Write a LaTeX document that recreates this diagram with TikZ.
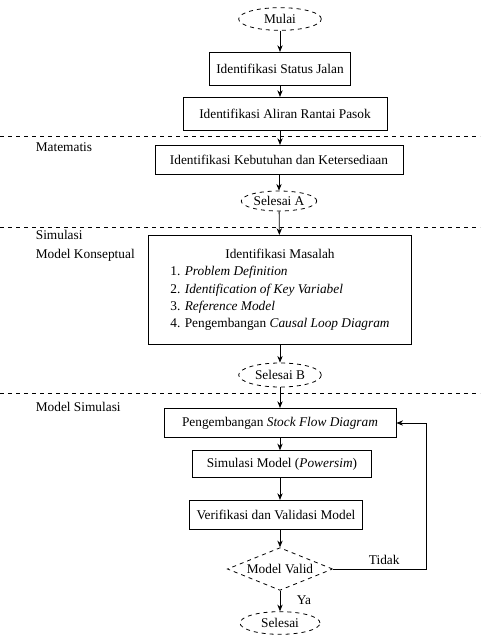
\documentclass[tikz,border=0pt]{standalone}
\usepackage{fontspec}
\setmainfont{Liberation Serif}
\usetikzlibrary{shapes.geometric,arrows.meta}
\begin{document}
\begin{tikzpicture}[x=0.75pt,y=-0.75pt,font=\fontsize{10}{12}\selectfont,
    kotak/.style={draw,rectangle,inner sep=2pt},
    terminal/.style={draw,dashed,ellipse,inner sep=1pt},
    keputusan/.style={draw,dashed,diamond,aspect=2.4,inner sep=1pt},
    panah/.style={-{Stealth[length=5pt,width=4pt]}},
    every path/.style={line width=0.6pt}]
  \useasboundingbox (0,0) rectangle (480,636);
  % alur utama
  \node[terminal,minimum width=62pt,minimum height=17pt] (Mulai) at (280,19) {Mulai};
  \node[kotak,minimum width=106pt,minimum height=25pt] (StatusJalan) at (280,69) {Identifikasi Status Jalan};
  \node[kotak,minimum width=153pt,minimum height=25pt] (RantaiPasok) at (285,114) {Identifikasi Aliran Rantai Pasok};
  \node[kotak,minimum width=186pt,minimum height=22pt] (Kebutuhan) at (279,160) {Identifikasi Kebutuhan dan Ketersediaan};
  \node[terminal,minimum width=56pt,minimum height=15pt] (SelesaiA) at (279,201) {Selesai A};
  \node[kotak,minimum width=197pt,minimum height=82pt] (Masalah) at (280,290)
    {\begin{tabular}{@{}l@{}}
       \multicolumn{1}{c}{Identifikasi Masalah}\\[1pt]
       1. \textit{Problem Definition}\\[1pt]
       2. \textit{Identification of Key Variabel}\\[1pt]
       3. \textit{Reference Model}\\[1pt]
       4. Pengembangan \textit{Causal Loop Diagram}
     \end{tabular}};
  \node[terminal,minimum width=62pt,minimum height=18pt] (SelesaiB) at (280,375) {Selesai B};
  \node[kotak,minimum width=174pt,minimum height=22pt] (SFD) at (280,423) {Pengembangan \textit{Stock Flow Diagram}};
  \node[kotak,minimum width=134pt,minimum height=20pt] (Simulasi) at (282,464) {Simulasi Model (\textit{Powersim})};
  \node[kotak,minimum width=130pt,minimum height=22pt] (Verifikasi) at (276,515) {Verifikasi dan Validasi Model};
  \node[keputusan,minimum width=79pt,minimum height=32pt] (Valid) at (280,569) {Model Valid};
  \node[terminal,minimum width=60pt,minimum height=17pt] (Selesai) at (280,623) {Selesai};
  \coordinate (Balik) at (426,569);

  % pembatas tahap
  \draw[dashed] (0,136) -- (480,136);
  \draw[dashed] (0,227) -- (480,227);
  \draw[dashed] (0,393) -- (480,393);
  \node[anchor=west] (Matematis) at (31,147) {Matematis};
  \node[anchor=west] (Konseptual) at (31,246) {\begin{tabular}{@{}l@{}}Simulasi\\[2pt]Model Konseptual\end{tabular}};
  \node[anchor=west] (ModelSim) at (31,407) {Model Simulasi};

  % panah
  \draw[panah] (Mulai) -- (StatusJalan);
  \draw[panah] (StatusJalan.south) -- (StatusJalan.south |- RantaiPasok.north);
  \draw[panah] (StatusJalan.south |- RantaiPasok.south) -- (StatusJalan.south |- Kebutuhan.north);
  \draw[panah] (Kebutuhan.south) -- (SelesaiA.north);
  \draw[panah] (SelesaiA) -- (Masalah);
  \draw[panah] (Masalah) -- (SelesaiB);
  \draw[panah] (SelesaiB) -- (SFD);
  \draw[panah] (SFD) -- (SFD |- Simulasi.north);
  \draw[panah] (SFD |- Simulasi.south) -- (SFD |- Verifikasi.north);
  \draw[panah] (SFD |- Verifikasi.south) -- (Valid.north);
  \draw[panah] (Valid) -- node[right,pos=0.45,xshift=9pt] {Ya} (Selesai);
  \draw[panah] (Valid.east) -- node[above,pos=0.55] {Tidak} (Balik) |- (SFD.east);
\end{tikzpicture}
\end{document}
